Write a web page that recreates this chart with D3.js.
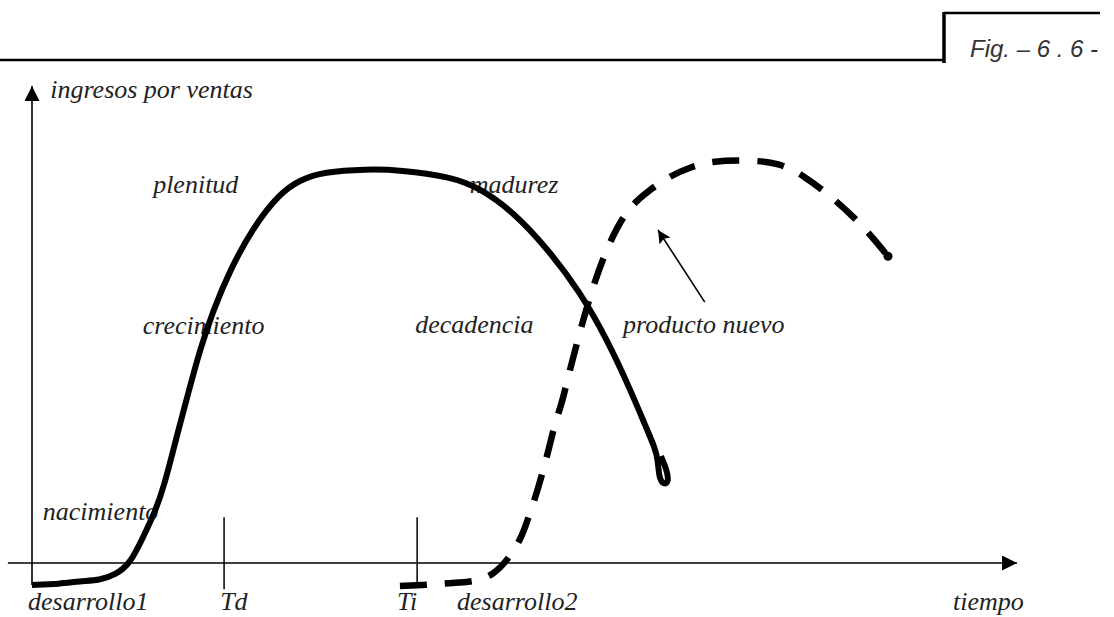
<!DOCTYPE html>
<html>
<head>
<meta charset="utf-8">
<script src="https://cdn.jsdelivr.net/npm/d3@7"></script>
<style>
  html, body { margin: 0; padding: 0; background: #fff; }
  svg { display: block; }
  .lbl { font-family: "Liberation Serif", "Times New Roman", serif; font-style: italic; font-size: 26px; fill: #222; }
  .fig { font-family: "Liberation Sans", Arial, sans-serif; font-style: italic; font-size: 24px; fill: #333; }
</style>
</head>
<body>
<script>
// Product life cycle: sales revenue over time for the current product
// and the new product that replaces it.

// time (0..200) / revenue (0..100) points of the current product curve
const currentTime = [0, 5.7, 9.7, 13.8, 16.9, 19.9, 22.5, 24.9, 26.8, 29.2, 31.9, 34.1, 36.8, 40.2, 44.9, 50.4, 54.4, 59.1, 68.0, 74.7, 84.9, 91.0, 97.7, 104.6, 111.3, 116.8, 121.5, 124.5, 126.5, 127.1, 127.3, 128.3, 129.3, 128.9, 127.7];
const currentRevenue = [-4.6, -4.4, -3.8, -3.6, -2.5, -0.2, 5.3, 10.5, 16.0, 25.8, 36.3, 44.7, 53.0, 61.4, 70.4, 77.6, 80.3, 82.0, 82.6, 82.4, 81.0, 78.6, 73.6, 66.0, 56.8, 46.8, 36.3, 28.9, 24.1, 21.6, 17.8, 16.4, 17.0, 19.5, 22.4];

// new product curve
const newTime = [74.7, 80.4, 84.3, 89.5, 93.6, 97.1, 99.5, 101.1, 102.5, 103.8, 105.0, 106.2, 107.6, 108.8, 110.3, 111.9, 113.7, 116.1, 119.0, 121.8, 124.9, 129.1, 133.6, 138.3, 145.0, 151.9, 156.5, 162.0, 167.5, 170.8, 173.8];
const newRevenue = [-4.8, -4.6, -4.2, -4.0, -2.7, 1.3, 5.5, 10.5, 14.7, 19.5, 24.1, 29.4, 33.5, 38.8, 44.7, 50.9, 57.2, 64.4, 70.9, 75.1, 77.8, 80.9, 83.0, 84.3, 84.5, 83.9, 81.3, 77.1, 71.9, 68.1, 64.3];

// marked instants on the time axis
const tickNames = ["Td", "Ti"];
const tickTimes = [39.0, 78.2];

// stage names and where they sit (time, revenue)
const stageNames = ["nacimiento", "crecimiento", "plenitud", "madurez", "decadencia", "producto nuevo"];
const stageTime = [2.2, 22.5, 24.6, 88.9, 77.8, 120.0];
const stageRevenue = [9.0, 48.0, 77.6, 77.6, 48.2, 48.2];

// labels under the time axis
const axisLabelNames = ["desarrollo1", "Td", "Ti", "desarrollo2", "tiempo"];
const axisLabelTime = [-0.8, 38.2, 74.1, 86.3, 187.0];

const yTitle = "ingresos por ventas";
const figTitle = "Fig. \u2013 6 . 6 -";

const W = 1114, H = 617;
const svg = d3.select("body").append("svg").attr("width", W).attr("height", H);

const x = d3.scaleLinear().domain([0, 200]).range([32, 1017]);
const y = d3.scaleLinear().domain([0, 100]).range([563, 86]);

const defs = svg.append("defs");
defs.append("marker").attr("id", "tri").attr("viewBox", "0 0 10 10")
  .attr("refX", 10).attr("refY", 5).attr("markerUnits", "userSpaceOnUse")
  .attr("markerWidth", 15).attr("markerHeight", 15).attr("orient", "auto")
  .append("path").attr("d", "M0,0 L10,5 L0,10 Z").attr("fill", "#000");
defs.append("marker").attr("id", "tri2").attr("viewBox", "0 0 10 10")
  .attr("refX", 10).attr("refY", 5).attr("markerUnits", "userSpaceOnUse")
  .attr("markerWidth", 15).attr("markerHeight", 13).attr("orient", "auto")
  .append("path").attr("d", "M0,0 L10,5 L0,10 L2,5 Z").attr("fill", "#000");

// header rule with figure number box
svg.append("line").attr("x1", 0).attr("x2", 944).attr("y1", 60).attr("y2", 60)
  .attr("stroke", "#000").attr("stroke-width", 2.5);
svg.append("line").attr("x1", 944).attr("x2", 944).attr("y1", 12).attr("y2", 63)
  .attr("stroke", "#000").attr("stroke-width", 3.5);
svg.append("line").attr("x1", 944).attr("x2", 1100).attr("y1", 13).attr("y2", 13)
  .attr("stroke", "#000").attr("stroke-width", 2.5);
svg.append("text").attr("class", "fig").attr("x", 970).attr("y", 57).text(figTitle);

// axes
svg.append("line").attr("x1", x(0)).attr("x2", x(0)).attr("y1", y(-4.6)).attr("y2", y(100))
  .attr("stroke", "#000").attr("stroke-width", 1.6).attr("marker-end", "url(#tri)");
svg.append("line").attr("x1", x(-4.9)).attr("x2", x(200)).attr("y1", y(0)).attr("y2", y(0))
  .attr("stroke", "#000").attr("stroke-width", 1.6).attr("marker-end", "url(#tri)");

// instants Td, Ti
const tickBottom = [-5.5, -4.2];
svg.selectAll("line.tick").data(tickTimes).join("line").attr("class", "tick")
  .attr("x1", d => x(d)).attr("x2", d => x(d))
  .attr("y1", y(9.6)).attr("y2", (d, i) => y(tickBottom[i]))
  .attr("stroke", "#000").attr("stroke-width", 1.5);

// texts
svg.append("text").attr("class", "lbl").attr("x", x(3.7)).attr("y", y(97.5)).text(yTitle);
svg.selectAll("text.stage").data(stageNames).join("text").attr("class", "lbl stage")
  .attr("x", (d, i) => x(stageTime[i])).attr("y", (d, i) => y(stageRevenue[i])).text(d => d);
svg.selectAll("text.axl").data(axisLabelNames).join("text").attr("class", "lbl axl")
  .attr("x", (d, i) => x(axisLabelTime[i])).attr("y", y(-9.8)).text(d => d);

// pointer to the new product curve
svg.append("line").attr("x1", x(136.6)).attr("y1", y(54.7)).attr("x2", x(127.1)).attr("y2", y(69.8))
  .attr("stroke", "#000").attr("stroke-width", 1.6).attr("marker-end", "url(#tri2)");

const line = d3.line().x(d => x(d[0])).y(d => y(d[1])).curve(d3.curveBasis);

// current product
svg.append("path").datum(d3.zip(currentTime, currentRevenue)).attr("d", line)
  .attr("fill", "none").attr("stroke", "#000").attr("stroke-width", 6)
  .attr("stroke-linejoin", "round");

// new product (dashed), ending in a short blot
const newPts = d3.zip(newTime, newRevenue);
svg.append("path").datum(newPts).attr("d", line)
  .attr("fill", "none").attr("stroke", "#000").attr("stroke-width", 6.5)
  .attr("stroke-dasharray", "27,18");
const last = newPts[newPts.length - 1];
svg.append("circle").attr("cx", x(last[0])).attr("cy", y(last[1])).attr("r", 4.5).attr("fill", "#000");
</script>
</body>
</html>
